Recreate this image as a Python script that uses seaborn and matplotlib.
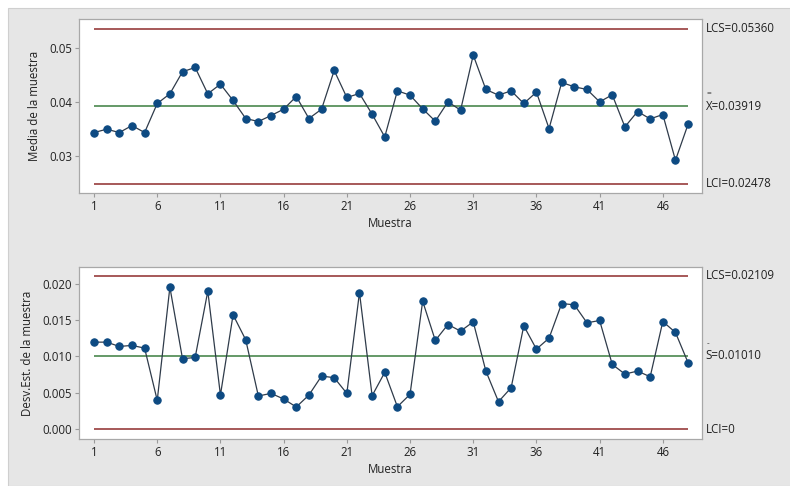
import matplotlib
matplotlib.use("Agg")
import matplotlib.pyplot as plt
from matplotlib.patches import Rectangle
import seaborn as sns
import numpy as np
import pandas as pd

# Xbar-S control chart data (48 subgroups)
muestra = list(range(1, 49))
medias = [0.03429, 0.03491, 0.03429, 0.03559, 0.03429, 0.03969, 0.04149, 0.04559,
          0.04639, 0.04149, 0.04329, 0.04025, 0.03690, 0.03634, 0.03745, 0.03863,
          0.04099, 0.03690, 0.03863, 0.04583, 0.04081, 0.04155, 0.03770, 0.03348,
          0.04205, 0.04124, 0.03870, 0.03640, 0.04000, 0.03845, 0.04869, 0.04230,
          0.04124, 0.04205, 0.03969, 0.04180, 0.03503, 0.04360, 0.04279, 0.04230,
          0.04000, 0.04130, 0.03534, 0.03820, 0.03683, 0.03764, 0.02914, 0.03584]
desv = [0.01196, 0.01196, 0.01137, 0.01151, 0.01114, 0.00397, 0.01950, 0.00968,
        0.00986, 0.01895, 0.00470, 0.01571, 0.01228, 0.00457, 0.00493, 0.00416,
        0.00306, 0.00470, 0.00731, 0.00708, 0.00493, 0.01877, 0.00461, 0.00781,
        0.00310, 0.00479, 0.01758, 0.01219, 0.01438, 0.01347, 0.01475, 0.00799,
        0.00379, 0.00571, 0.01420, 0.01100, 0.01251, 0.01726, 0.01708, 0.01461,
        0.01493, 0.00890, 0.00758, 0.00799, 0.00721, 0.01479, 0.01329, 0.00913]

# Control limits
lcs_x, centro_x, lci_x = 0.05360, 0.03919, 0.02478
lcs_s, centro_s, lci_s = 0.02109, 0.01010, 0.0

x_ticks = [1, 6, 11, 16, 21, 26, 31, 36, 41, 46]
ticks_media = [0.03, 0.04, 0.05]
ticks_desv = [0.000, 0.005, 0.010, 0.015, 0.020]

df = pd.DataFrame({"Muestra": muestra, "Media": medias, "Desv": desv})

sns.set_style("white")
plt.rcParams["font.family"] = ["Open Sans", "DejaVu Sans"]

W, H = 790, 486
fig = plt.figure(figsize=(W / 100, H / 100), dpi=100, facecolor="white")
fig.patches.append(Rectangle((8 / W, 0), 1, 1 - 8 / H, transform=fig.transFigure,
                             facecolor="#e6e6e6", edgecolor="#cfcfcf", lw=0.8, zorder=-10))


def px_axes(left, top, right, bottom):
    return fig.add_axes([left / W, 1 - bottom / H, (right - left) / W, (bottom - top) / H])


ax1 = px_axes(79, 19, 702, 193)
ax2 = px_axes(79, 267, 702, 439)

RED = "#8e2b2b"
GREEN = "#3b7d3f"
PT = "#0d4a82"
LN = "#2f3b4a"
TXT = "#222222"
FS = 8.3


def panel(ax, col, lcs, centro, lci, ylim, yticks, yfmt, ylabel, lab_lcs, lab_c, lab_lci, bar, bar_off):
    ax.set_facecolor("white")
    ax.hlines([lcs, lci], 1, 48, color=RED, lw=1.1, zorder=1)
    ax.hlines([centro], 1, 48, color=GREEN, lw=1.1, zorder=1)
    sns.lineplot(data=df, x="Muestra", y=col, ax=ax, color=LN, lw=0.9,
                 marker="o", markersize=5.3, markerfacecolor=PT, markeredgecolor=PT, zorder=3)
    ax.set_xlim(-0.19, 49.1)
    ax.set_ylim(*ylim)
    ax.set_xticks(x_ticks)
    ax.set_yticks(yticks)
    ax.set_yticklabels([yfmt.format(v) for v in yticks])
    ax.tick_params(axis="both", which="both", length=3, width=0.8, color="#9a9a9a",
                   labelsize=FS, labelcolor=TXT, pad=2, direction="out",
                   bottom=True, left=True)
    for s in ax.spines.values():
        s.set_color("#a8a8a8")
        s.set_linewidth(0.9)
    ax.set_xlabel("Muestra", fontsize=FS, color=TXT, labelpad=3)
    ax.set_ylabel(ylabel, fontsize=FS, color=TXT, labelpad=6)
    tr = ax.get_yaxis_transform()
    ax.text(1.006, lcs, lab_lcs, transform=tr, fontsize=FS, color=TXT, va="center", ha="left")
    ax.text(1.006, centro, lab_c, transform=tr, fontsize=FS, color=TXT, va="center", ha="left")
    # bar accent drawn just above the centre-line symbol
    ax.annotate(bar, xy=(1.006, centro), xycoords=tr, xytext=(0.5, bar_off),
                textcoords="offset points", fontsize=6, color=TXT, va="center", ha="left")
    ax.text(1.006, lci, lab_lci, transform=tr, fontsize=FS, color=TXT, va="center", ha="left")


panel(ax1, "Media", lcs_x, centro_x, lci_x, (0.02305, 0.0554), ticks_media, "{:.2f}",
      "Media de la muestra", "LCS=0.05360", "X=0.03919", "LCI=0.02478", "=", 8.8)
panel(ax2, "Desv", lcs_s, centro_s, lci_s, (-0.00133, 0.02227), ticks_desv, "{:.3f}",
      "Desv.Est. de la muestra", "LCS=0.02109", "S=0.01010", "LCI=0", "-", 8.8)

fig.savefig("out.png", dpi=100, facecolor=fig.get_facecolor())
